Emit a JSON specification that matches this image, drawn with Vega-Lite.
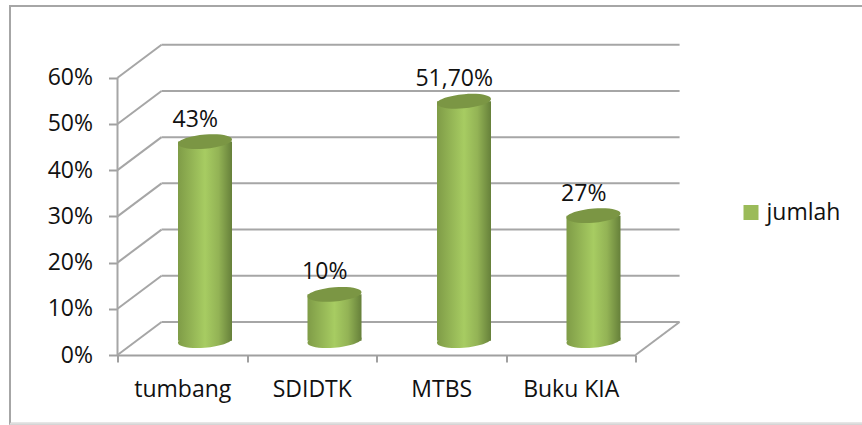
{"$schema":"https://vega.github.io/schema/vega-lite/v6.json","width":563.5,"height":311,"padding":{"left":117.5,"top":44,"right":181,"bottom":70},"autosize":{"type":"none"},"background":"white","config":{"view":{"stroke":null},"font":"Open Sans","axis":{"labelFont":"Open Sans","labelFontSize":23,"labelColor":"#111111"},"legend":{"labelFont":"Open Sans","labelFontSize":23,"labelColor":"#111111"}},"datasets":{"levels":[{"level":0},{"level":10},{"level":20},{"level":30},{"level":40},{"level":50},{"level":60}],"bars":[{"kategori":"tumbang","nilai":43,"label":"43%","seri":"jumlah"},{"kategori":"SDIDTK","nilai":10,"label":"10%","seri":"jumlah"},{"kategori":"MTBS","nilai":51.7,"label":"51,70%","seri":"jumlah"},{"kategori":"Buku KIA","nilai":27,"label":"27%","seri":"jumlah"}],"frame":[{"x0":-0.83,"x1":5.9,"y0":-14.9,"y1":75.5}]},"layer":[{"layer":[{"data":{"name":"frame"},"mark":{"type":"rect","fillOpacity":0,"stroke":"#a6a6a6","strokeWidth":2,"clip":false},"encoding":{"x":{"field":"x0","type":"quantitative","scale":{"domain":[0,4.351],"nice":false,"zero":false},"axis":null},"x2":{"field":"x1"},"y":{"field":"y0","type":"quantitative","scale":{"domain":[0,67.3],"nice":false,"zero":false},"axis":{"values":[0,10,20,30,40,50,60],"labelExpr":"datum.value + '%'","title":null,"domain":false,"grid":false,"tickSize":9,"tickWidth":2,"tickColor":"#a0a0a0","labelPadding":16}},"y2":{"field":"y1"}}},{"data":{"name":"frame"},"mark":{"type":"rule","stroke":"#dedede","strokeWidth":2},"encoding":{"x":{"field":"x0","type":"quantitative"},"x2":{"field":"x1"},"y":{"field":"y0","type":"quantitative"}}},{"data":{"name":"levels"},"transform":[{"calculate":"datum.level + 7.14","as":"back"}],"mark":{"type":"rule","stroke":"#a6a6a6","strokeWidth":2},"encoding":{"x":{"datum":0,"type":"quantitative"},"x2":{"datum":0.34},"y":{"field":"level","type":"quantitative"},"y2":{"field":"back"}}},{"data":{"name":"levels"},"transform":[{"calculate":"datum.level + 7.14","as":"back"}],"mark":{"type":"rule","stroke":"#a6a6a6","strokeWidth":2},"encoding":{"x":{"datum":0.34,"type":"quantitative"},"x2":{"datum":4.34},"y":{"field":"back","type":"quantitative"}}},{"data":{"name":"levels"},"transform":[{"filter":"datum.level == 0"},{"calculate":"datum.level + 7.14","as":"back"}],"mark":{"type":"rule","stroke":"#a6a6a6","strokeWidth":2},"encoding":{"x":{"datum":4,"type":"quantitative"},"x2":{"datum":4.34},"y":{"field":"level","type":"quantitative"},"y2":{"field":"back"}}},{"data":{"name":"levels"},"transform":[{"joinaggregate":[{"op":"max","field":"level","as":"top"}]},{"filter":"datum.level == 0"}],"mark":{"type":"rule","stroke":"#a6a6a6","strokeWidth":2},"encoding":{"x":{"datum":0,"type":"quantitative"},"y":{"field":"level","type":"quantitative"},"y2":{"field":"top"}}}]},{"data":{"name":"bars"},"encoding":{"x":{"field":"kategori","type":"nominal","sort":null,"scale":{"range":[0,518],"paddingInner":0,"paddingOuter":0},"axis":{"orient":"bottom","title":null,"labelAngle":0,"tickBand":"extent","tickSize":7,"tickWidth":2,"tickColor":"#a0a0a0","domainColor":"#a0a0a0","domainWidth":2,"grid":false,"labelPadding":16}},"y":{"field":"nilai","type":"quantitative","scale":{"domain":[-3.1,64.07],"nice":false,"zero":false},"axis":null}},"layer":[{"mark":{"type":"point","shape":"M-1,0.08 A1,0.26 -5 1 1 1,-0.08 A1,0.26 -5 1 1 -1,0.08 Z","filled":true,"size":2916,"opacity":1,"xOffset":22.75,"fill":{"gradient":"linear","x1":0,"x2":1,"y1":0,"y2":0,"stops":[{"offset":0,"color":"#7f9c47"},{"offset":0.5,"color":"#a7cc62"},{"offset":0.75,"color":"#93b355"},{"offset":1,"color":"#66803a"}]}},"encoding":{"y":{"datum":0,"type":"quantitative"}}},{"mark":{"type":"bar","size":54,"xOffset":22.75,"fill":{"gradient":"linear","x1":0,"x2":1,"y1":0,"y2":0,"stops":[{"offset":0,"color":"#7f9c47"},{"offset":0.5,"color":"#a7cc62"},{"offset":0.75,"color":"#93b355"},{"offset":1,"color":"#66803a"}]}},"encoding":{"y":{"field":"nilai","type":"quantitative","stack":null}}},{"mark":{"type":"point","shape":"M-1,0.08 A1,0.26 -5 1 1 1,-0.08 A1,0.26 -5 1 1 -1,0.08 Z","filled":true,"size":2916,"opacity":1,"xOffset":22.75,"fill":"#7b9644","stroke":null}},{"mark":{"type":"point","shape":"square","filled":true,"size":0,"opacity":1},"encoding":{"color":{"field":"seri","type":"nominal","scale":{"range":["#9bbb59"]},"legend":{"title":null,"orient":"none","legendX":622,"legendY":157,"symbolType":"square","symbolSize":225,"symbolOpacity":1,"labelOffset":4}}}},{"mark":{"type":"text","font":"Open Sans","fontSize":23,"color":"#111111","xOffset":13,"dy":-22,"baseline":"middle"},"encoding":{"text":{"field":"label"}}}]}],"resolve":{"scale":{"x":"independent","y":"independent"},"axis":{"x":"independent","y":"independent"}}}
